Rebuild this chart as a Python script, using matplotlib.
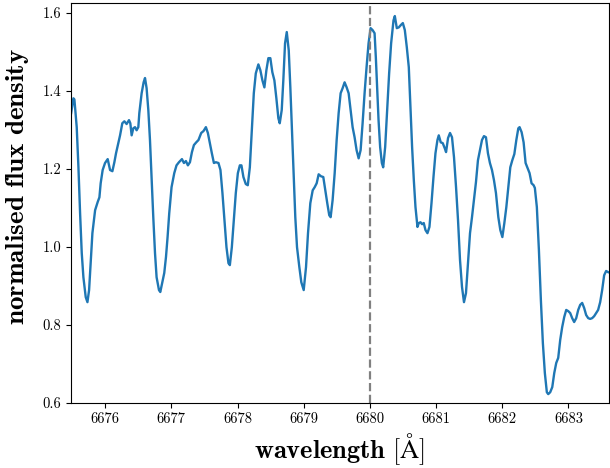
import numpy as np
import matplotlib
matplotlib.use('Agg')
import matplotlib.pyplot as plt

plt.rcParams['font.family'] = 'serif'
plt.rcParams['font.serif'] = ['cmr10']
plt.rcParams['mathtext.fontset'] = 'cm'
plt.rcParams['axes.formatter.use_mathtext'] = True

# spectrum
wavelength = [
    6675.486, 6675.520, 6675.535, 6675.570, 6675.596, 6675.621, 6675.646, 6675.671, 6675.706, 6675.732,
    6675.757, 6675.781, 6675.807, 6675.848, 6675.887, 6675.913, 6675.932, 6675.962, 6675.998, 6676.038,
    6676.074, 6676.109, 6676.139, 6676.164, 6676.199, 6676.225, 6676.259, 6676.290, 6676.324, 6676.360,
    6676.380, 6676.400, 6676.425, 6676.451, 6676.475, 6676.501, 6676.516, 6676.551, 6676.581, 6676.602,
    6676.626, 6676.652, 6676.677, 6676.701, 6676.727, 6676.753, 6676.777, 6676.813, 6676.833, 6676.863,
    6676.893, 6676.919, 6676.943, 6676.968, 6677.003, 6677.044, 6677.078, 6677.115, 6677.160, 6677.190,
    6677.220, 6677.250, 6677.281, 6677.311, 6677.341, 6677.376, 6677.410, 6677.451, 6677.486, 6677.522,
    6677.552, 6677.582, 6677.612, 6677.643, 6677.673, 6677.712, 6677.742, 6677.772, 6677.802, 6677.833,
    6677.863, 6677.884, 6677.914, 6677.944, 6677.974, 6678.005, 6678.035, 6678.059, 6678.089, 6678.125,
    6678.155, 6678.186, 6678.216, 6678.246, 6678.276, 6678.315, 6678.345, 6678.376, 6678.406, 6678.436,
    6678.466, 6678.496, 6678.526, 6678.557, 6678.587, 6678.617, 6678.638, 6678.668, 6678.692, 6678.718,
    6678.744, 6678.774, 6678.798, 6678.824, 6678.849, 6678.873, 6678.899, 6678.934, 6678.964, 6679.000,
    6679.035, 6679.065, 6679.100, 6679.136, 6679.166, 6679.196, 6679.226, 6679.261, 6679.296, 6679.326,
    6679.356, 6679.386, 6679.407, 6679.437, 6679.468, 6679.498, 6679.528, 6679.558, 6679.588, 6679.618,
    6679.649, 6679.679, 6679.709, 6679.739, 6679.769, 6679.799, 6679.830, 6679.860, 6679.890, 6679.920,
    6679.950, 6679.980, 6680.011, 6680.041, 6680.071, 6680.090, 6680.110, 6680.131, 6680.155, 6680.181,
    6680.201, 6680.231, 6680.261, 6680.291, 6680.321, 6680.357, 6680.377, 6680.407, 6680.437, 6680.468,
    6680.498, 6680.528, 6680.558, 6680.588, 6680.614, 6680.638, 6680.664, 6680.689, 6680.719, 6680.739,
    6680.765, 6680.789, 6680.814, 6680.840, 6680.870, 6680.900, 6680.931, 6680.961, 6680.991, 6681.021,
    6681.041, 6681.071, 6681.101, 6681.131, 6681.151, 6681.181, 6681.211, 6681.241, 6681.271, 6681.302,
    6681.332, 6681.362, 6681.392, 6681.422, 6681.452, 6681.483, 6681.513, 6681.543, 6681.573, 6681.603,
    6681.633, 6681.664, 6681.694, 6681.724, 6681.754, 6681.784, 6681.814, 6681.845, 6681.875, 6681.905,
    6681.941, 6681.971, 6682.002, 6682.032, 6682.062, 6682.092, 6682.122, 6682.152, 6682.183, 6682.213,
    6682.243, 6682.262, 6682.293, 6682.323, 6682.353, 6682.383, 6682.413, 6682.443, 6682.474, 6682.493,
    6682.523, 6682.554, 6682.584, 6682.614, 6682.644, 6682.674, 6682.695, 6682.725, 6682.756, 6682.786,
    6682.816, 6682.846, 6682.876, 6682.906, 6682.937, 6682.967, 6682.997, 6683.027, 6683.057, 6683.087,
    6683.118, 6683.148, 6683.178, 6683.208, 6683.238, 6683.268, 6683.299, 6683.329, 6683.359, 6683.389,
    6683.419, 6683.449, 6683.480, 6683.510, 6683.540, 6683.570, 6683.600,
]
flux = [
    1.343, 1.381, 1.378, 1.307, 1.204, 1.086, 0.984, 0.922, 0.871, 0.858,
    0.889, 0.958, 1.035, 1.094, 1.115, 1.127, 1.163, 1.197, 1.215, 1.225,
    1.197, 1.194, 1.217, 1.240, 1.266, 1.286, 1.317, 1.322, 1.315, 1.325,
    1.317, 1.286, 1.304, 1.307, 1.299, 1.307, 1.343, 1.394, 1.422, 1.433,
    1.407, 1.351, 1.274, 1.179, 1.076, 0.984, 0.922, 0.889, 0.884, 0.909,
    0.933, 0.974, 1.025, 1.086, 1.153, 1.189, 1.209, 1.217, 1.225, 1.215,
    1.220, 1.209, 1.217, 1.243, 1.261, 1.268, 1.274, 1.292, 1.297, 1.307,
    1.292, 1.266, 1.240, 1.215, 1.217, 1.215, 1.197, 1.138, 1.068, 0.999,
    0.958, 0.953, 0.999, 1.068, 1.138, 1.189, 1.209, 1.209, 1.179, 1.161,
    1.158, 1.204, 1.299, 1.394, 1.445, 1.468, 1.453, 1.427, 1.409, 1.453,
    1.484, 1.484, 1.448, 1.427, 1.381, 1.330, 1.317, 1.351, 1.427, 1.522,
    1.551, 1.504, 1.409, 1.292, 1.179, 1.076, 0.999, 0.948, 0.909, 0.889,
    0.948, 1.035, 1.112, 1.145, 1.153, 1.163, 1.186, 1.181, 1.179, 1.145,
    1.112, 1.081, 1.076, 1.120, 1.189, 1.274, 1.343, 1.394, 1.407, 1.422,
    1.409, 1.394, 1.351, 1.307, 1.281, 1.248, 1.227, 1.248, 1.317, 1.394,
    1.461, 1.522, 1.561, 1.556, 1.548, 1.486, 1.409, 1.325, 1.256, 1.215,
    1.204, 1.256, 1.351, 1.445, 1.522, 1.581, 1.592, 1.561, 1.563, 1.569,
    1.574, 1.556, 1.512, 1.461, 1.351, 1.256, 1.171, 1.102, 1.051, 1.061,
    1.063, 1.058, 1.061, 1.043, 1.035, 1.051, 1.112, 1.179, 1.240, 1.274,
    1.286, 1.268, 1.266, 1.253, 1.243, 1.279, 1.292, 1.281, 1.230, 1.153,
    1.068, 0.966, 0.897, 0.858, 0.881, 0.958, 1.035, 1.076, 1.120, 1.166,
    1.222, 1.248, 1.274, 1.284, 1.281, 1.240, 1.215, 1.197, 1.171, 1.138,
    1.076, 1.043, 1.025, 1.061, 1.102, 1.153, 1.204, 1.222, 1.238, 1.274,
    1.304, 1.307, 1.294, 1.268, 1.215, 1.202, 1.189, 1.163, 1.158, 1.151,
    1.102, 0.992, 0.863, 0.753, 0.676, 0.627, 0.622, 0.627, 0.640, 0.676,
    0.702, 0.715, 0.761, 0.794, 0.820, 0.838, 0.835, 0.830, 0.817, 0.807,
    0.817, 0.838, 0.851, 0.856, 0.843, 0.825, 0.817, 0.815, 0.817, 0.822,
    0.830, 0.838, 0.858, 0.889, 0.927, 0.938, 0.935,
]
line_centre = 6680.0

fig = plt.figure(figsize=(6.1, 4.68), dpi=100)
ax = fig.add_axes([0.116, 0.1395, 0.882, 0.8545])

ax.plot(wavelength, flux, color='#1f77b4', lw=1.7)
ax.axvline(line_centre, color='grey', ls='--', lw=1.6)

ax.set_xlim(6675.48, 6683.61)
ax.set_ylim(0.6, 1.626)
ax.set_xticks(np.arange(6676, 6684, 1))
ax.set_yticks([0.6, 0.8, 1.0, 1.2, 1.4, 1.6])
ax.set_yticklabels(['0.6', '0.8', '1.0', '1.2', '1.4', '1.6'])
ax.set_xticklabels([str(v) for v in range(6676, 6684)])
ax.tick_params(labelsize=10.5)

ax.set_xlabel(r'$\mathbf{wavelength}\ [\mathrm{\AA}]$', fontsize=19)
ax.set_ylabel(r'$\mathbf{normalised\ flux\ density}$', fontsize=19.5)
ax.yaxis.set_label_coords(-0.073, 0.54)

plt.savefig('out.png', dpi=100)
